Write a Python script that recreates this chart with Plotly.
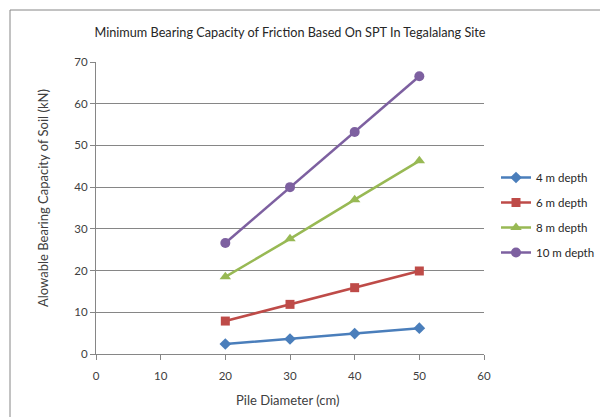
import plotly.graph_objects as go

diameters = [20, 30, 40, 50]
series_names = ["4 m depth", "6 m depth", "8 m depth", "10 m depth"]
depth4 = [2.4, 3.6, 4.9, 6.2]
depth6 = [7.9, 11.9, 15.9, 19.9]
depth8 = [18.5, 27.6, 37.0, 46.3]
depth10 = [26.6, 40.0, 53.2, 66.6]
x_ticks = [0, 10, 20, 30, 40, 50, 60]
y_ticks = [0, 10, 20, 30, 40, 50, 60, 70]
title_text = "Minimum Bearing Capacity of Friction Based On SPT In Tegalalang Site"
x_title = "Pile Diameter (cm)"
y_title = "Alowable Bearing Capacity of Soil (kN)"

colors = ["#4A7EBB", "#BE4B48", "#98B954", "#7D60A0"]
symbols = ["diamond", "square", "triangle-up", "circle"]
sizes = [9, 9, 10, 10]

W, H = 600, 417
L, R, T, B = 96, 116, 62, 63
pw, ph = W - L - R, H - T - B

def px(x):
    return (x - L) / pw

def py(y):
    return (H - B - y) / ph

fig = go.Figure()
for i, (name, ys, c, s, sz) in enumerate(zip(series_names, [depth4, depth6, depth8, depth10], colors, symbols, sizes)):
    fig.add_trace(go.Scatter(
        x=diameters, y=ys, name=name, mode="lines+markers", legendgroup=f"g{i}",
        line=dict(color=c, width=2.5),
        marker=dict(symbol=s, size=sz, color=c),
    ))

font_fam = "Lato, 'Open Sans', sans-serif"
fig.update_layout(
    width=W, height=H,
    margin=dict(l=L, r=R, t=T, b=B, autoexpand=False),
    paper_bgcolor="white", plot_bgcolor="white",
    font=dict(family=font_fam, color="#404040", size=11),
    title=dict(text=title_text,
               x=0.5, xanchor="center", xref="paper", y=1 - 33 / H, yanchor="middle",
               font=dict(size=12.7, color="#262626", family=font_fam)),
    legend=dict(x=px(496), y=py(163), xanchor="left", yanchor="top",
                font=dict(size=11.5, color="#262626"), tracegroupgap=6,
                itemwidth=30, bgcolor="rgba(0,0,0,0)"),
    showlegend=True,
    shapes=[dict(type="rect", xref="paper", yref="paper",
                 x0=px(10), x1=px(610), y0=py(430), y1=py(10),
                 line=dict(color="#868686", width=1), fillcolor="rgba(0,0,0,0)", layer="below")],
    annotations=[
        dict(text=x_title, xref="paper", yref="paper", x=px(288), y=py(400),
             xanchor="center", yanchor="middle", showarrow=False,
             font=dict(size=13, color="#404040")),
        dict(text=y_title, xref="paper", yref="paper", x=px(43), y=py(198),
             xanchor="center", yanchor="middle", showarrow=False, textangle=-90,
             font=dict(size=13, color="#404040")),
    ],
)
fig.update_xaxes(range=[0, 60], tickvals=x_ticks, showgrid=False, zeroline=False,
                 showline=True, linecolor="#868686", linewidth=1,
                 ticks="outside", ticklen=5, tickcolor="#868686", ticklabelstandoff=6,
                 tickfont=dict(size=11.5, color="#404040"))
fig.update_yaxes(range=[0, 70], tickvals=y_ticks, showgrid=True, gridcolor="#868686", gridwidth=1,
                 zeroline=False, showline=True, linecolor="#868686", linewidth=1,
                 ticks="outside", ticklen=5, tickcolor="#868686",
                 tickfont=dict(size=11.5, color="#404040"))

fig.write_html("out.html")
